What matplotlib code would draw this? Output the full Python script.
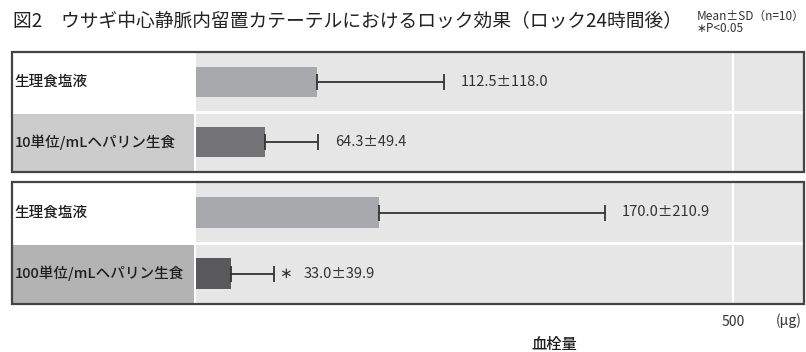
import matplotlib
matplotlib.use('Agg')
import matplotlib.pyplot as plt
from matplotlib.patches import Rectangle

plt.rcParams['font.family'] = ['Noto Sans CJK JP', 'DejaVu Sans']

# ---- data ----
title = "図2　ウサギ中心静脈内留置カテーテルにおけるロック効果（ロック24時間後）"
note1 = "Mean±SD（n=10）"
note2 = "∗P<0.05"
panel1_labels = ["生理食塩液", "10単位/mLヘパリン生食"]
panel2_labels = ["生理食塩液", "100単位/mLヘパリン生食"]
panel1_means = [112.5, 64.3]
panel2_means = [170.0, 33.0]
panel1_sds = [118.0, 49.4]
panel2_sds = [210.9, 39.9]
panel1_sig = [False, False]
panel2_sig = [False, True]
panel1_colors = ["#a8a9ac", "#737375"]
panel2_colors = ["#a8a9ac", "#59595b"]
panel1_label_bg = ["#ffffff", "#cccccc"]
panel2_label_bg = ["#ffffff", "#b3b3b3"]
xticks = [500]
xlabel = "血栓量"
unit = "(μg)"

W, H = 806, 352
fig = plt.figure(figsize=(W / 100, H / 100), dpi=100)


def rect(x0, y0, x1, y1):
    return [x0 / W, 1 - y1 / H, (x1 - x0) / W, (y1 - y0) / H]


XMAX = 566
panels = [
    (52, 172, panel1_labels, panel1_means, panel1_sds, panel1_sig, panel1_colors, panel1_label_bg),
    (182, 304, panel2_labels, panel2_means, panel2_sds, panel2_sig, panel2_colors, panel2_label_bg),
]

axes = []
for (top, bot, labels, means, sds, sig, colors, lbg) in panels:
    lab = fig.add_axes(rect(12, top, 194, bot))
    lab.set_xlim(0, 1)
    lab.set_ylim(len(labels) - 0.5, -0.5)
    lab.axis('off')
    for i, (t, bg) in enumerate(zip(labels, lbg)):
        lab.add_patch(Rectangle((0, i - 0.5 + (0.04 if i > 0 else 0)), 1, 1 - (0.04 if i > 0 else 0),
                                facecolor=bg, edgecolor='none'))
        lab.text(0.015, i, t, va='center', ha='left', fontsize=10.5, color='#1e1e1e',
                 fontweight='medium')

    ax = fig.add_axes(rect(196, top, 804, bot))
    ax.set_facecolor('#e6e6e6')
    ax.set_xlim(0, XMAX)
    ax.set_ylim(len(labels) - 0.5, -0.5)
    for s in ax.spines.values():
        s.set_visible(False)
    ax.set_yticks([])
    ax.set_xticks([])
    for xt in xticks:
        ax.axvline(xt, color='white', lw=1.5, zorder=1)
    for k in range(1, len(labels)):
        ax.axhline(k - 0.5, color='white', lw=2, zorder=1)
    y = list(range(len(labels)))
    ax.barh(y, means, height=0.5, color=colors, zorder=2)
    for i, (m, s, sg) in enumerate(zip(means, sds, sig)):
        ax.errorbar(m, i, xerr=[[0], [s]], fmt='none', ecolor='#333333',
                    elinewidth=1.3, capsize=5.5, capthick=1.3, zorder=3)
        txt = f"{m:.1f}±{s:.1f}"
        if sg:
            ax.annotate("∗", (m + s, i), xytext=(3.5, 0), textcoords='offset points',
                        va='center', ha='left', fontsize=11, color='#333333')
            ax.annotate(txt, (m + s, i), xytext=(21, 0), textcoords='offset points',
                        va='center', ha='left', fontsize=10.5, color='#333333')
        else:
            ax.annotate(txt, (m + s, i), xytext=(12, 0), textcoords='offset points',
                        va='center', ha='left', fontsize=10.5, color='#333333')
    axes.append(ax)
    fig.add_artist(Rectangle((12 / W, 1 - bot / H), (804 - 12) / W, (bot - top) / H,
                             transform=fig.transFigure, fill=False,
                             edgecolor='#444444', lw=1.6, zorder=10))

axes[-1].set_xticks(xticks)
axes[-1].set_xticklabels([str(v) for v in xticks], fontsize=10, color='#333333')
axes[-1].tick_params(axis='x', length=0, pad=8)

fig.text(802 / W, 1 - 321 / H, unit, ha='right', va='center', fontsize=10, color='#333333')
fig.text(554 / W, 1 - 344 / H, xlabel, ha='center', va='center', fontsize=11,
         color='#1e1e1e', fontweight='medium')
fig.text(13 / W, 1 - 22 / H, title, ha='left', va='center', fontsize=13.5, color='#222222')
fig.text(697 / W, 1 - 16 / H, note1, ha='left', va='center', fontsize=8.5, color='#333333')
fig.text(697 / W, 1 - 28 / H, note2, ha='left', va='center', fontsize=8.5, color='#333333')

fig.savefig('out.png', dpi=100)
